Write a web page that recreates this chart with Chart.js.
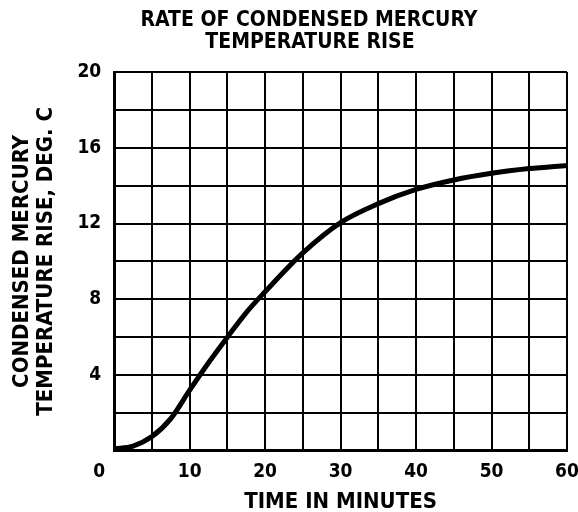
<!DOCTYPE html>
<html>
<head>
<meta charset="utf-8">
<script src="https://cdn.jsdelivr.net/npm/chart.js@4.4.1/dist/chart.umd.min.js"></script>
<style>
  html, body { margin: 0; padding: 0; background: #fff; }
  #wrap { width: 578px; height: 512px; }
</style>
</head>
<body>
<div id="wrap"><canvas id="tempChart" width="578" height="512"></canvas></div>
<script>
// values
const timeMin = [0, 2.5, 5, 7.5, 10, 12.5, 15, 17.5, 20, 25, 30, 35, 40, 45, 50, 55, 60];
const tempRise = [0.1, 0.25, 0.75, 1.7, 3.2, 4.65, 6.0, 7.3, 8.4, 10.45, 12.05, 13.05, 13.8, 14.3, 14.65, 14.9, 15.07];
const titleLines = ["RATE OF CONDENSED MERCURY", "TEMPERATURE RISE"];
const xTitle = "TIME IN MINUTES";
const yTitle = ["CONDENSED MERCURY", "TEMPERATURE RISE, DEG. C"];

const FONT = "'DejaVu Sans Condensed', 'DejaVu Sans', sans-serif";

// title is drawn off-centre in the original, so draw it by hand
const titlePlugin = {
  id: "offsetTitle",
  afterDraw(chart) {
    const ctx = chart.ctx;
    ctx.save();
    ctx.fillStyle = "#000";
    ctx.font = "bold 21px " + FONT;
    ctx.textAlign = "center";
    ctx.textBaseline = "middle";
    ctx.fillText(titleLines[0], 309, 21);
    ctx.fillText(titleLines[1], 310, 43);
    ctx.restore();
  }
};

const canvas = document.getElementById("tempChart");
const ctx = canvas.getContext("2d");

new Chart(ctx, {
  type: "line",
  data: {
    datasets: [{
      data: timeMin.map((t, i) => ({ x: t, y: tempRise[i] })),
      borderColor: "#000",
      borderWidth: 5,
      pointRadius: 0,
      fill: false,
      cubicInterpolationMode: "monotone"
    }]
  },
  options: {
    responsive: false,
    animation: false,
    layout: {
      padding: { top: 72, left: 10, right: 0, bottom: 2 }
    },
    plugins: {
      legend: { display: false },
      title: { display: false },
      tooltip: { enabled: false }
    },
    scales: {
      x: {
        type: "linear",
        min: 0,
        max: 60,
        afterFit: (scale) => { scale.paddingRight = 11; },
        grid: { color: "#000", lineWidth: 2, drawTicks: false },
        border: { color: "#000", width: 3 },
        ticks: {
          stepSize: 5,
          autoSkip: false,
          maxRotation: 0,
          padding: 10,
          color: "#000",
          font: { family: FONT, size: 19, weight: "bold" },
          callback: (v) => v === 0 ? "0     " : (v % 10 === 0 ? String(v) : "")
        },
        title: {
          display: true,
          text: xTitle,
          color: "#000",
          font: { family: FONT, size: 22, weight: "bold" },
          padding: { top: -5, bottom: -5 }
        }
      },
      y: {
        min: 0,
        max: 20,
        grid: { color: "#000", lineWidth: 2, drawTicks: false },
        border: { color: "#000", width: 3 },
        ticks: {
          stepSize: 2,
          autoSkip: false,
          padding: 13,
          color: "#000",
          font: { family: FONT, size: 19, weight: "bold" },
          callback: (v) => (v !== 0 && v % 4 === 0) ? String(v) : ""
        },
        title: {
          display: true,
          text: yTitle,
          color: "#000",
          font: { family: FONT, size: 22, weight: "bold", lineHeight: 1.1 },
          padding: { top: 0, bottom: 6 }
        }
      }
    }
  },
  plugins: [titlePlugin]
});
</script>
</body>
</html>
